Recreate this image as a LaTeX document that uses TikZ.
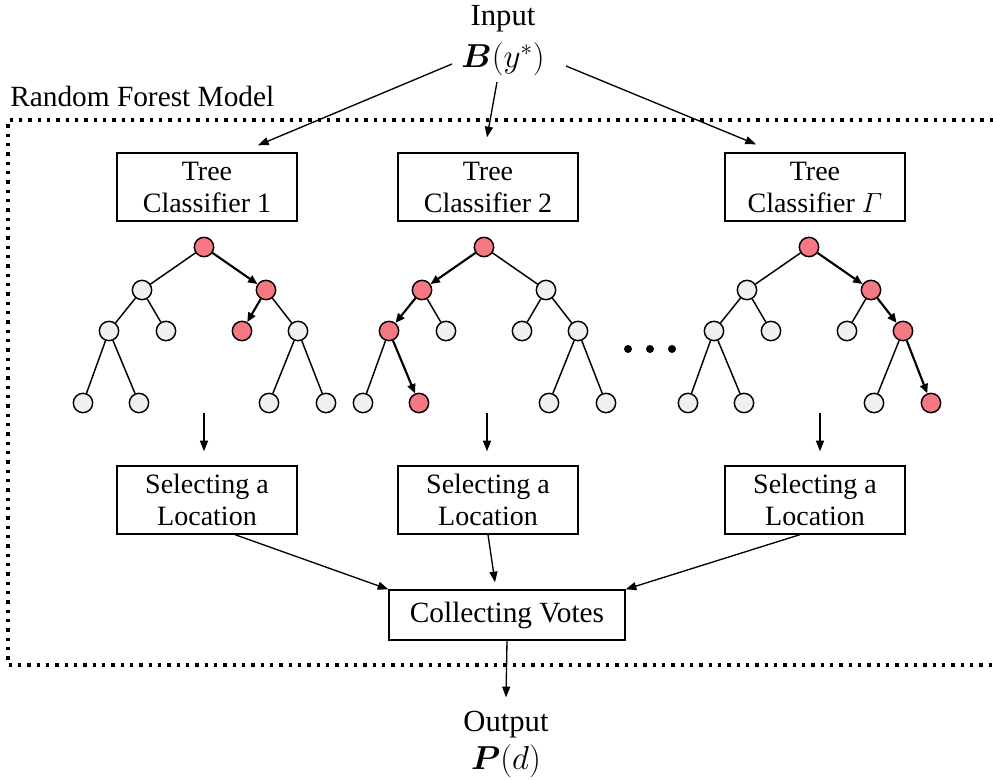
\documentclass[tikz,border=0pt]{standalone}
\usepackage{amsmath}
\usepackage{fontspec}
\setmainfont{Liberation Serif}
\usetikzlibrary{arrows.meta}
\definecolor{rfill}{RGB}{245,120,130}
\definecolor{gfill}{RGB}{240,240,240}
\newcommand\rftree[2]{%
 \node[s-r] (#1r) at (#2,247) {};
 \node[s-a] (#1a) at (#2-62,290) {};
 \node[s-b] (#1b) at (#2+62,290) {};
 \node[s-aa] (#1aa) at (#2-95,331) {};
 \node[s-ab] (#1ab) at (#2-38,331) {};
 \node[s-ba] (#1ba) at (#2+38,331) {};
 \node[s-bb] (#1bb) at (#2+94,331) {};
 \node[s-aaa] (#1aaa) at (#2-121,403) {};
 \node[s-aab] (#1aab) at (#2-65,403) {};
 \node[s-bba] (#1bba) at (#2+65,403) {};
 \node[s-bbb] (#1bbb) at (#2+122,403) {};
 \draw[e-a] (#1r) -- (#1a);
 \draw[e-b] (#1r) -- (#1b);
 \draw[e-aa] (#1a) -- (#1aa);
 \draw[e-ab] (#1a) -- (#1ab);
 \draw[e-ba] (#1b) -- (#1ba);
 \draw[e-bb] (#1b) -- (#1bb);
 \draw[e-aaa] (#1aa) -- (#1aaa);
 \draw[e-aab] (#1aa) -- (#1aab);
 \draw[e-bba] (#1bb) -- (#1bba);
 \draw[e-bbb] (#1bb) -- (#1bbb);
}
\begin{document}
\begin{tikzpicture}[x=0.75pt,y=-0.75pt,
 box/.style={draw,line width=1pt,minimum width=135pt,minimum height=51pt,align=center,inner sep=0pt,font=\fontsize{21}{24}\selectfont},
 arr/.style={line width=1pt,-{Triangle[length=8pt,width=6pt]}},
 gnode/.style={circle,draw,line width=1.1pt,fill=gfill,minimum size=14.5pt,inner sep=0pt},
 rnode/.style={gnode,fill=rfill},
 tedge/.style={line width=1.1pt},
 pedge/.style={line width=1.6pt,-{Triangle[length=7pt,width=6pt]}},
 s-r/.style=gnode, s-a/.style=gnode, s-b/.style=gnode, s-aa/.style=gnode, s-ab/.style=gnode,
 s-ba/.style=gnode, s-bb/.style=gnode, s-aaa/.style=gnode, s-aab/.style=gnode, s-bba/.style=gnode, s-bbb/.style=gnode,
 e-a/.style=tedge, e-b/.style=tedge, e-aa/.style=tedge, e-ab/.style=tedge, e-ba/.style=tedge, e-bb/.style=tedge,
 e-aaa/.style=tedge, e-aab/.style=tedge, e-bba/.style=tedge, e-bbb/.style=tedge,
 txt/.style={inner sep=0pt,font=\fontsize{23}{26}\selectfont}
]
\useasboundingbox (0,0) rectangle (993,780);
% dotted frame
\draw[line width=2.6pt,dash pattern=on 2.6pt off 4.4pt] (993,120) -- (8,120) -- (8,665) -- (993,665);
\node[anchor=west,inner sep=0pt,font=\fontsize{22}{24}\selectfont] (rfm) at (10,96) {Random Forest Model};
% input / output
\node[txt] (inp) at (503,19) {Input};
\node[txt] (inpm) at (503,59) {$\boldsymbol{B}(y^*)$};
\node[txt] (out) at (506,725) {Output};
\node[txt] (outm) at (506,761) {$\boldsymbol{P}(d)$};
% classifier boxes
\node[box] (tc1) at (207,187) {Tree\\Classifier 1};
\node[box] (tc2) at (488,187) {Tree\\Classifier 2};
\node[box] (tc3) at (815,187) {Tree\\Classifier $\varGamma$};
\node[box] (sl1) at (207,500) {Selecting a\\Location};
\node[box] (sl2) at (488,500) {Selecting a\\Location};
\node[box] (sl3) at (815,500) {Selecting a\\Location};
\node[box,minimum width=177pt,minimum height=37.5pt,font=\fontsize{22}{24}\selectfont] (cv) at (507,615) {Collecting Votes};
% trees
\begin{scope}[s-r/.style=rnode,s-b/.style=rnode,s-ba/.style=rnode,e-b/.style=pedge,e-ba/.style=pedge]
\rftree{ta}{204}
\end{scope}
\begin{scope}[s-r/.style=rnode,s-a/.style=rnode,s-aa/.style=rnode,s-aab/.style=rnode,e-a/.style=pedge,e-aa/.style=pedge,e-aab/.style=pedge]
\rftree{tb}{484}
\end{scope}
\begin{scope}[s-r/.style=rnode,s-b/.style=rnode,s-bb/.style=rnode,s-bbb/.style=rnode,e-b/.style=pedge,e-bb/.style=pedge,e-bbb/.style=pedge]
\rftree{tc}{809}
\end{scope}
% ellipsis dots
\fill (628,349) circle (3pt);
\fill (650,349) circle (3pt);
\fill (672,349) circle (3pt);
% input arrows
\draw[arr] ([shift={(-51,5)}]inpm.center) -- ([shift={(51,-7)}]tc1.north);
\draw[arr] ([shift={(-6,23)}]inpm.center) -- ([shift={(-1,-15)}]tc2.north);
\draw[arr] ([shift={(63,7)}]inpm.center) -- ([shift={(-59,-8)}]tc3.north);
% tree to selecting
\draw[arr] ([shift={(-3,-52)}]sl1.north) -- ([shift={(-3,-14)}]sl1.north);
\draw[arr] ([shift={(-1,-52)}]sl2.north) -- ([shift={(-1,-14)}]sl2.north);
\draw[arr] ([shift={(5,-52)}]sl3.north) -- ([shift={(5,-14)}]sl3.north);
% selecting to collecting
\draw[arr] ([shift={(28,0)}]sl1.south) -- (cv.north west);
\draw[arr] (sl2.south) -- ([shift={(-12,-7)}]cv.north);
\draw[arr] ([shift={(-15,0)}]sl3.south) -- (cv.north east);
% collecting to output
\draw[arr] (cv.south) -- ([shift={(0,-14)}]out.north);
\end{tikzpicture}
\end{document}
